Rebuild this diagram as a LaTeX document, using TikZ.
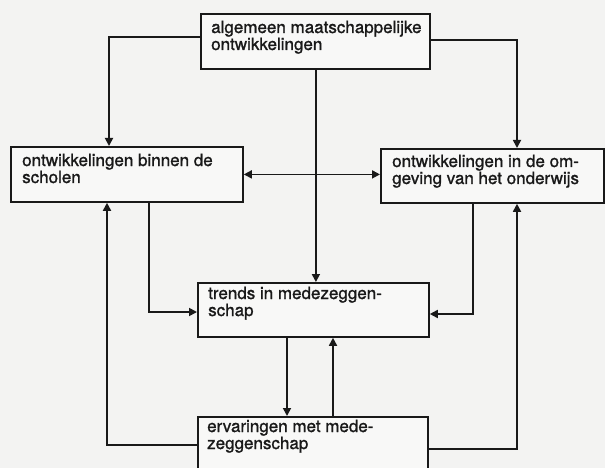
\documentclass[tikz,border=0pt]{standalone}
\usepackage{fontspec}
\setmainfont{TeX Gyre Heros}[FakeBold=1.2]
\usetikzlibrary{arrows.meta}
\definecolor{ink}{RGB}{25,25,25}
\definecolor{paper}{RGB}{243,243,242}
\definecolor{boxfill}{RGB}{248,248,247}
\newcommand\twolines[2]{\vtop{\hbox{#1}\hbox{#2}}}
\begin{document}
\begin{tikzpicture}[x=1pt,y=-1pt,
  box/.style={draw=ink, line width=1.8pt, fill=boxfill, inner sep=0pt, anchor=north west},
  lbl/.style={anchor=base west, inner sep=0pt, text=ink, font=\fontsize{17}{17}\selectfont},
  con/.style={draw=ink, line width=1.7pt},
  arr/.style={con, -{Triangle[length=8pt,width=8pt]}},
  barr/.style={con, {Triangle[length=8pt,width=8pt]}-{Triangle[length=8pt,width=8pt]}}]
\fill[paper] (0,0) rectangle (605,468);
\useasboundingbox (0,0) rectangle (605,468);
\clip (0,0) rectangle (605,468);
% boxes
\node[box, minimum width=229pt, minimum height=55pt] (top) at (200,13) {};
\node[box, minimum width=232pt, minimum height=55pt] (left) at (10,146) {};
\node[box, minimum width=223pt, minimum height=54pt] (right) at (380,148) {};
\node[box, minimum width=231pt, minimum height=54pt] (trends) at (197,282) {};
\node[box, minimum width=230pt, minimum height=62pt] (erv) at (197,416) {};
% texts
\node[lbl] (topT) at ([xshift=11pt,yshift=-20pt]top.north west) {\twolines{algemeen maatschappelijke}{ontwikkelingen}};
\node[lbl] (leftT) at ([xshift=12pt,yshift=-20pt]left.north west) {\twolines{ontwikkelingen binnen de}{scholen}};
\node[lbl] (rightT) at ([xshift=12pt,yshift=-19pt]right.north west) {\twolines{ontwikkelingen in de om-}{geving van het onderwijs}};
\node[lbl] (trendsT) at ([xshift=11pt,yshift=-17pt]trends.north west) {\twolines{trends in medezeggen-}{schap}};
\node[lbl] (ervT) at ([xshift=10pt,yshift=-16pt]erv.north west) {\twolines{ervaringen met mede-}{zeggenschap}};
% connectors
\draw[arr] ([yshift=-24pt]top.north west) -| ([xshift=99pt]left.north west);
\draw[arr] ([yshift=-27pt]top.north east) -| ([xshift=137pt]right.north west);
\draw[arr] ([xshift=0.5pt]top.south) -- ([xshift=0.5pt]top.south |- trends.north);
\draw[barr] (left.east) -- (left.east -| right.west);
\draw[arr] ([xshift=139pt]left.south west) |- ([yshift=-30pt]trends.north west);
\draw[arr] ([xshift=93pt]right.south west) |- ([yshift=-32pt]trends.north east);
\draw[arr] ([xshift=90pt]trends.south west) -- ([xshift=90pt]trends.south west |- erv.north);
\draw[arr] ([xshift=136pt]erv.north west) -- ([xshift=136pt]erv.north west |- trends.south);
\draw[arr] ([yshift=-29pt]erv.north west) -| ([xshift=97pt]left.south west);
\draw[arr] ([yshift=-33pt]erv.north east) -| ([xshift=137pt]right.south west);
\end{tikzpicture}
\end{document}
